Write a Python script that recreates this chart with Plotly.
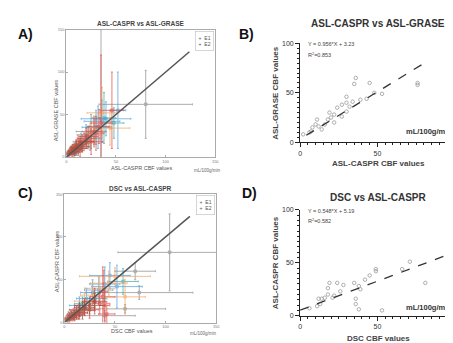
import plotly.graph_objects as go

W, H = 453, 343

# ---------------- Panel A data (ASL-CASPR vs ASL-GRASE, per-subject means with SD) -------------
A_groups = ["gray", "teal", "blue", "orange", "red", "brown"]
A_x = {
    "red":    [3, 6, 10, 14, 18, 22, 25, 30, 35, 46, 8, 12, 16, 20, 28, 33],
    "blue":   [8, 15, 24, 32, 40, 52, 12, 20, 28, 36],
    "orange": [5, 12, 28, 36, 44, 18, 24, 9],
    "teal":   [10, 30, 48, 22, 38],
    "brown":  [2, 4, 6, 8, 10, 12, 3, 5, 7, 9, 14, 16, 20],
    "gray":   [80, 35, 25],
}
A_y = {
    "red":    [4, 8, 12, 10, 20, 24, 18, 28, 40, 55, 6, 14, 16, 22, 30, 36],
    "blue":   [6, 18, 22, 35, 45, 55, 10, 26, 30, 42],
    "orange": [7, 14, 30, 52, 34, 20, 26, 11],
    "teal":   [10, 35, 40, 24, 46],
    "brown":  [3, 6, 4, 9, 12, 8, 5, 7, 10, 6, 15, 12, 18],
    "gray":   [62, 45, 30],
}
A_ex = {
    "red":    [3, 4, 6, 8, 6, 10, 12, 8, 10, 12, 5, 6, 7, 9, 8, 10],
    "blue":   [5, 8, 10, 12, 25, 8, 6, 9, 12, 18],
    "orange": [4, 6, 10, 15, 20, 8, 12, 5],
    "teal":   [6, 14, 10, 8, 12],
    "brown":  [2, 3, 4, 4, 5, 6, 3, 3, 4, 5, 6, 7, 8],
    "gray":   [47, 5, 15],
}
A_ey = {
    "red":    [3, 5, 6, 10, 8, 12, 15, 20, 80, 45, 5, 8, 10, 12, 15, 20],
    "blue":   [4, 10, 14, 25, 20, 45, 6, 12, 18, 25],
    "orange": [5, 8, 18, 30, 20, 10, 14, 6],
    "teal":   [8, 20, 18, 12, 30],
    "brown":  [3, 4, 4, 6, 8, 6, 3, 4, 5, 4, 7, 6, 8],
    "gray":   [40, 105, 20],
}

# ---------------- Panel C data (DSC vs ASL-CASPR) ----------------
C_x = {
    "red":    [5, 10, 15, 20, 30, 38, 40, 42, 8, 12, 25, 35, 39],
    "blue":   [15, 28, 40, 45, 52, 22, 34],
    "orange": [20, 35, 50, 60, 28, 44],
    "teal":   [30, 58, 18],
    "brown":  [3, 6, 9, 12, 15, 18, 25, 4, 7, 10, 14, 20, 30],
    "gray":   [104, 74, 60, 70, 40],
}
C_y = {
    "red":    [4, 8, 12, 18, 25, 30, 20, 10, 6, 10, 15, 22, 36],
    "blue":   [20, 35, 45, 55, 42, 28, 38],
    "orange": [25, 40, 54, 30, 32, 46],
    "teal":   [28, 48, 22],
    "brown":  [3, 6, 10, 12, 15, 14, 20, 5, 8, 9, 11, 17, 24],
    "gray":   [82, 35, 16, 60, 8],
}
C_ex = {
    "red":    [4, 6, 8, 10, 10, 12, 5, 8, 5, 7, 9, 10, 4],
    "blue":   [10, 12, 15, 20, 25, 10, 14],
    "orange": [10, 15, 35, 20, 12, 18],
    "teal":   [12, 15, 8],
    "brown":  [3, 5, 6, 8, 10, 12, 15, 4, 5, 7, 9, 10, 12],
    "gray":   [51, 53, 40, 20, 30],
}
C_ey = {
    "red":    [4, 6, 8, 10, 15, 35, 20, 10, 4, 6, 10, 12, 25],
    "blue":   [10, 15, 20, 15, 25, 12, 16],
    "orange": [10, 15, 10, 20, 12, 14],
    "teal":   [10, 15, 8],
    "brown":  [3, 4, 6, 8, 8, 10, 10, 3, 5, 6, 7, 8, 10],
    "gray":   [45, 8, 5, 10, 6],
}

identity_end = 124

# ---------------- Panel B data ----------------
B_x = [35, 36, 45, 76, 76, 30, 53, 48, 43, 39, 34, 32, 30, 27, 24, 22, 20, 18, 19, 27,
       22, 11, 10, 12, 8, 7, 6, 14, 16, 2, 30]
B_y = [59, 65, 60, 60, 58, 46, 49, 50, 44, 43, 41, 36, 31, 38, 35, 28, 25, 23, 30, 26,
       20, 23, 18, 16, 15, 11, 10, 13, 18, 8, 40]
B_slope, B_int = 0.956, 3.23
B_fit_x = [4, 80]

# ---------------- Panel D data ----------------
D_x = [71, 66, 49, 49, 45, 42, 38, 39, 35, 28, 24, 19, 18, 26, 22, 21, 18, 16, 14, 12,
       13, 11, 6, 81, 36, 38, 36, 53]
D_y = [51, 44, 44, 42, 38, 34, 28, 25, 31, 29, 31, 31, 26, 23, 19, 17, 20, 17, 16, 16,
       11, 9, 7, 31, 11, 6, 16, 5]
D_slope, D_int = 0.548, 5.19
D_fit_x = [0, 102]

palette = {
    "red": "#e2453c",
    "blue": "#4a9fe0",
    "orange": "#f2a35e",
    "teal": "#3aa8a0",
    "brown": "#9c4a3a",
    "gray": "#8a8a8a",
}

fig = go.Figure()

def add_err_panel(xd, yd, exd, eyd, xa, ya):
    for g in A_groups:
        c = palette[g]
        fig.add_trace(go.Scatter(
            x=xd[g], y=yd[g], mode="markers",
            marker=dict(color=c, size=4),
            error_x=dict(type="data", array=exd[g], color=c, thickness=1, width=1),
            error_y=dict(type="data", array=eyd[g], color=c, thickness=1, width=1),
            opacity=0.7, showlegend=False, xaxis=xa, yaxis=ya))
    fig.add_trace(go.Scatter(x=[0, identity_end], y=[0, identity_end], mode="lines",
                             line=dict(color="#555555", width=1.5), showlegend=False,
                             xaxis=xa, yaxis=ya))

add_err_panel(A_x, A_y, A_ex, A_ey, "x", "y")
add_err_panel(C_x, C_y, C_ex, C_ey, "x3", "y3")

def add_scatter_panel(xs, ys, slope, inter, fx, xa, ya):
    fig.add_trace(go.Scatter(x=xs, y=ys, mode="markers",
                             marker=dict(color="#9a9a9a", size=3.5, symbol="circle-open",
                                         line=dict(width=0.8)),
                             showlegend=False, xaxis=xa, yaxis=ya, cliponaxis=False))
    fig.add_trace(go.Scatter(x=fx, y=[slope * v + inter for v in fx], mode="lines",
                             line=dict(color="#333333", width=1.3, dash="dash"),
                             showlegend=False, xaxis=xa, yaxis=ya))

add_scatter_panel(B_x, B_y, B_slope, B_int, B_fit_x, "x2", "y2")
add_scatter_panel(D_x, D_y, D_slope, D_int, D_fit_x, "x4", "y4")

def px(v):
    return v / W

def py(v):
    return 1 - v / H

tickfont_small = dict(size=4, color="#777", family="Liberation Sans")
mat_axis = dict(range=[0, 150], tickvals=[0, 50, 100, 150], showline=True, mirror=True,
                linecolor="#aaaaaa", linewidth=0.8, showgrid=False, zeroline=False,
                ticks="inside", ticklen=2, tickcolor="#aaaaaa", tickfont=tickfont_small)

gp_tickfont = dict(size=7, color="#333", family="Liberation Sans")
gp_y = dict(range=[0, 100], tickvals=[0, 50, 100], showline=True, mirror=False,
            linecolor="#222", linewidth=1, showgrid=False, zeroline=False,
            ticks="outside", ticklen=4, tickcolor="#222", tickfont=gp_tickfont,
            minor=dict(dtick=5, ticks="outside", ticklen=2, tickcolor="#222"))
gp_x = dict(gp_y)
gp_x["range"] = [0, 101.5]

fig.update_layout(
    width=W, height=H, margin=dict(l=0, r=0, t=0, b=0),
    paper_bgcolor="white", plot_bgcolor="white",
    xaxis=dict(domain=[px(57), px(208)], anchor="y", **mat_axis),
    yaxis=dict(domain=[py(148), py(18)], anchor="x", **mat_axis),
    xaxis3=dict(domain=[px(55), px(209)], anchor="y3", **mat_axis),
    yaxis3=dict(domain=[py(317), py(186)], anchor="x3", **mat_axis),
    xaxis2=dict(domain=[px(294), 1.0], anchor="y2", **gp_x),
    yaxis2=dict(domain=[py(133), py(32)], anchor="x2", **gp_y),
    xaxis4=dict(domain=[px(294), 1.0], anchor="y4", **gp_x),
    yaxis4=dict(domain=[py(310), py(202)], anchor="x4", **gp_y),
)

ann = []
def text(x, y, t, size, bold=False, color="#222", angle=0, xanchor="center", **kw):
    s = f"<b>{t}</b>" if bold else t
    ann.append(dict(x=px(x), y=py(y), xref="paper", yref="paper", text=s, showarrow=False,
                    font=dict(size=size, color=color, family="Liberation Sans"),
                    textangle=angle, xanchor=xanchor, yanchor="middle", **kw))

# panel labels
text(16, 22, "A)", 14, True, "#111")
text(240, 22, "B)", 14, True, "#111")
text(16, 185, "C)", 14, True, "#111")
text(243, 185, "D)", 14, True, "#111")

# Panel A texts
text(132, 12, "ASL-CASPR vs ASL-GRASE", 6.5, True, "#444")
text(133, 159, "ASL-CASPR CBF values", 5.5, False, "#555")
text(47, 100, "ASL-GRASE CBF values", 5.5, False, "#555", angle=-90)
text(200, 162, "mL/100g/min", 4.5, False, "#666")
ann.append(dict(x=px(207), y=py(19), xref="paper", yref="paper", xanchor="right", yanchor="top",
                text="+  E1<br>+  E2", showarrow=False, align="left",
                font=dict(size=5, color="#555", family="Liberation Sans"),
                bordercolor="#bbbbbb", borderwidth=0.6, borderpad=3, bgcolor="white"))

# Panel C texts
text(132, 180, "DSC vs ASL-CASPR", 6.5, True, "#444")
text(124, 326, "DSC CBF values", 5.5, False, "#555")
text(47, 255, "ASL-CASPR CBF values", 5.5, False, "#555", angle=-90)
text(196, 328, "mL/100g/min", 4.5, False, "#666")
ann.append(dict(x=px(208), y=py(187), xref="paper", yref="paper", xanchor="right", yanchor="top",
                text="+  E1<br>+  E2", showarrow=False, align="left",
                font=dict(size=5, color="#555", family="Liberation Sans"),
                bordercolor="#bbbbbb", borderwidth=0.6, borderpad=3, bgcolor="white"))

# Panel B texts
text(373, 12, "ASL-CASPR vs ASL-GRASE", 10, True, "#333")
text(373, 155, "ASL-CASPR CBF values", 8, True, "#444")
text(269, 83, "ASL-GRASE CBF values", 8, True, "#444", angle=-90)
text(300, 33, f"Y = {B_slope}*X + {B_int}", 5.5, False, "#444", xanchor="left")
text(300, 44, "R<sup>2</sup>=0.853", 5.5, False, "#444", xanchor="left")
text(450, 122, "mL/100g/min", 7.5, True, "#333", xanchor="right")

# Panel D texts
text(373, 189, "DSC vs ASL-CASPR", 10, True, "#333")
text(373, 333, "DSC CBF values", 8, True, "#444")
text(269, 256, "ASL-CASPR CBF values", 8, True, "#444", angle=-90)
text(300, 203, f"Y = {D_slope}*X + {D_int}", 5.5, False, "#444", xanchor="left")
text(300, 213, "R<sup>2</sup>=0.582", 5.5, False, "#444", xanchor="left")
text(450, 302, "mL/100g/min", 7.5, True, "#333", xanchor="right")

fig.update_layout(annotations=ann)
fig.write_html("out.html")
